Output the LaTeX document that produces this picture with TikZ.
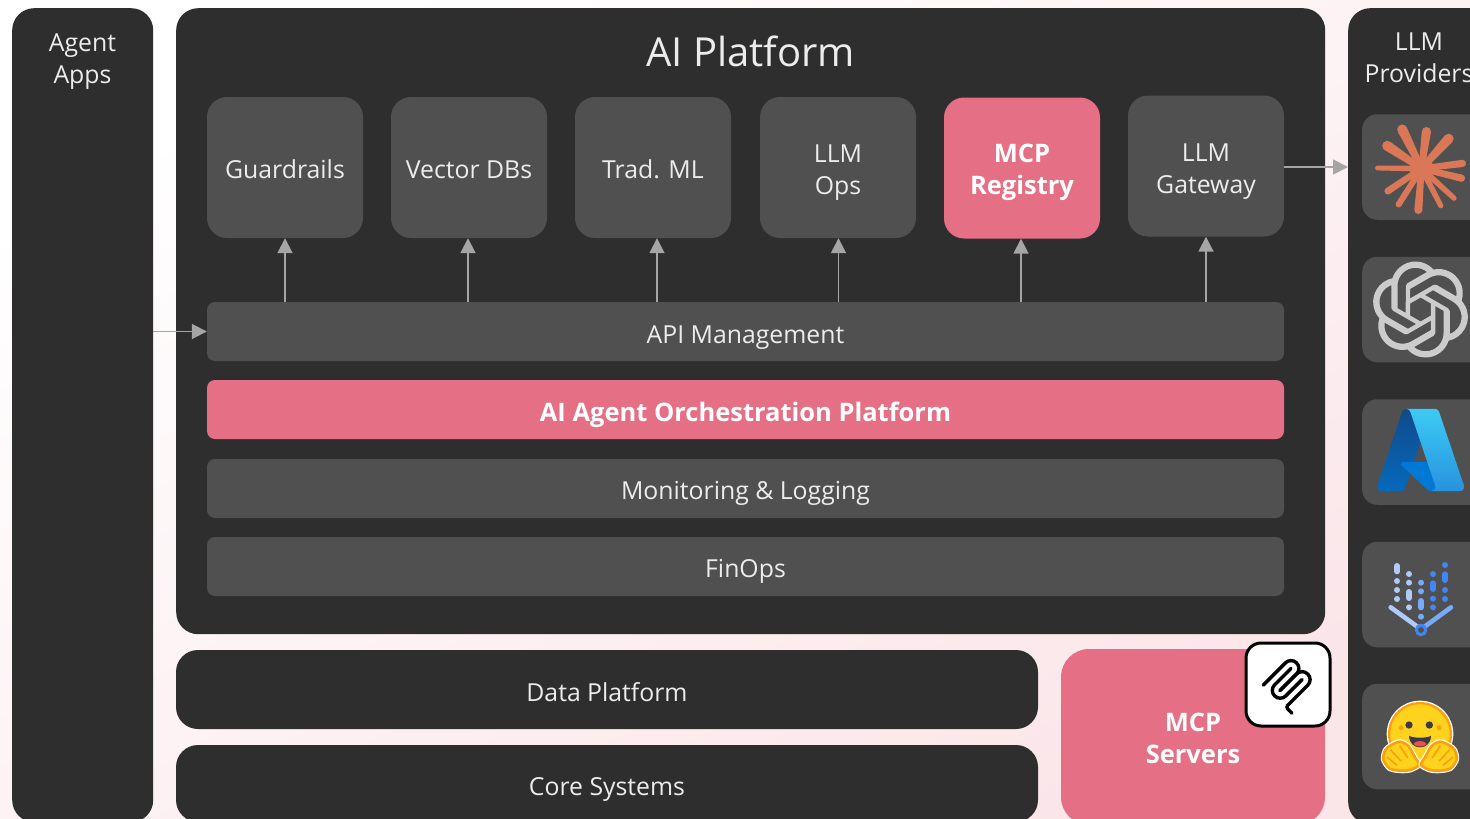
\documentclass[tikz,border=0pt]{standalone}
\usepackage{fontspec}
\usepackage{tikz}
\usetikzlibrary{arrows.meta}
\usetikzlibrary{calc}
\usetikzlibrary{svg.path}
\setmainfont{Open Sans}
\newcommand{\tallline}{\rule{0pt}{28pt}}
\definecolor{panel}{RGB}{46,46,46}
\definecolor{tile}{RGB}{80,80,80}
\definecolor{accent}{RGB}{229,111,132}
\definecolor{arrowgray}{RGB}{165,165,165}
\definecolor{textgray}{RGB}{236,236,236}
\definecolor{claude}{RGB}{217,119,87}
\definecolor{vlight}{RGB}{174,203,250}
\definecolor{vmid}{RGB}{120,170,247}
\definecolor{vblue}{RGB}{66,133,244}
\definecolor{hfyellow}{RGB}{255,210,30}
\definecolor{hforange}{RGB}{255,157,11}
\definecolor{hfdark}{RGB}{58,59,69}
\tikzset{
	plain/.style={font=\fontsize{24.8}{32}\selectfont},
	hot/.style={fill=accent,text=white,font=\fontsize{25.5}{32}\selectfont\bfseries},
	panelbox/.style={fill=panel,rounded corners=22pt,text=textgray,plain},
	tilebox/.style={fill=tile,rounded corners=20pt,minimum width=156pt,minimum height=141pt,text=textgray,plain},
	onetile/.style={text height=27pt,text depth=6pt},
	twotile/.style={align=center},
	barbox/.style={fill=tile,rounded corners=8pt,minimum width=1077pt,minimum height=59pt,text=textgray,plain,text height=29pt,text depth=6pt},
	iconbox/.style={fill=tile,rounded corners=15pt,minimum width=130pt,minimum height=105.5pt,anchor=west},
	feed/.style={draw=arrowgray,line width=1.8pt,-{Triangle[length=15pt,width=15pt]}},
	labeltext/.style={text=textgray,plain,align=center}
}
\begin{document}
\begin{tikzpicture}[x=1pt,y=-1pt]
	\useasboundingbox (0,0) rectangle (1470,819);
	\clip (0,0) rectangle (1470,819);
	\shade[top color=white,bottom color=accent!18,shading angle=30] (0,0) rectangle (1470,819);

	% outer panels
	\node[panelbox,minimum width=141pt,minimum height=814pt,anchor=north west] (agent) at (12,8) {};
	\node[labeltext] (agenttext) at (82.5,62) {Agent\\Apps};
	\node[panelbox,minimum width=1149pt,minimum height=626pt,anchor=north west] (platform) at (176,8) {};
	\node[text=textgray,font=\fontsize{40}{48}\selectfont] (platformtext) at (750.5,51) {AI Platform};
	\node[panelbox,minimum width=200pt,minimum height=816pt,anchor=north west] (providers) at (1348,8) {};
	\node[labeltext] (providerstext) at (1419,58) {LLM\\Providers};

	% tiles
	\node[tilebox,onetile] (guardrails) at (285,167.5) {Guardrails};
	\node[tilebox,onetile] (vector) at (469,167.5) {Vector DBs};
	\node[tilebox,onetile] (trad) at (653,167.5) {Trad. ML};
	\node[tilebox,twotile] (ops) at (838,167.5) {\tallline LLM\\Ops};
	\node[tilebox,hot,twotile] (registry) at (1022,168) {\tallline MCP\\Registry};
	\node[tilebox,twotile] (gateway) at (1206,166) {\tallline LLM\\Gateway};

	% bars
	\node[barbox] (api) at (745.5,331.5) {API Management};
	\node[barbox,hot] (orch) at (745.5,409.5) {AI Agent Orchestration Platform};
	\node[barbox,text height=27pt] (monitoring) at (745.5,488.5) {Monitoring \& Logging};
	\node[barbox,text height=27pt] (finops) at (745.5,566.5) {FinOps};

	% lower panels
	\node[panelbox,minimum width=862pt,minimum height=79pt,text height=29pt,text depth=6pt] (data) at (607,689.5) {Data Platform};
	\node[panelbox,minimum width=862pt,minimum height=77pt,text height=29pt,text depth=6pt] (core) at (607,783.5) {Core Systems};
	\node[panelbox,hot,rounded corners=28pt,minimum width=264pt,minimum height=176pt,align=center] (servers) at (1193,737) {\rule{0pt}{21pt}MCP\\Servers};
	\node[draw=black,line width=3pt,fill=white,rounded corners=15pt,minimum width=84pt,minimum height=83pt] (mcptile) at (1288,684.5) {};

	% arrows
	\foreach \tilename in {guardrails,gateway}
		\draw[feed] (api.north -| \tilename) -- (\tilename.south);
	\draw[feed] ([xshift=-1pt]api.north -| vector) -- ([xshift=-1pt]vector.south);
	\draw[feed] ([xshift=4pt]api.north -| trad) -- ([xshift=4pt]trad.south);
	\draw[feed] ([xshift=.5pt]api.north -| ops) -- ([xshift=.5pt]ops.south);
	\draw[feed] ([xshift=-1pt]api.north -| registry) -- ([xshift=-1pt]registry.south);
	\draw[feed] (agent.east |- api) -- (api.west);
	\draw[feed] ([yshift=-1pt]gateway.east) -- ([yshift=-1pt]providers.west |- gateway);

	% provider tiles
	\node[iconbox] (claudetile) at (1362,167) {};
	\node[iconbox] (openai) at (1362,309.5) {};
	\node[iconbox] (azure) at (1362,452) {};
	\node[iconbox] (vertex) at (1362,594.5) {};
	\node[iconbox] (hugging) at (1362,736.5) {};

	% mcp
	\begin{scope}[shift={(1257.4,657.3)},scale=.327,yscale=-1]
		\draw[black,line width=3.4pt,line cap=round] svg {M18 84.8528L85.8822 16.9706C95.2548 7.59798 110.451 7.59798 119.823 16.9706C129.196 26.3431 129.196 41.5391 119.823 50.9117L68.5581 102.177};
		\draw[black,line width=3.4pt,line cap=round] svg {M69.2652 101.47L119.823 50.9117C129.196 41.5391 144.392 41.5391 153.765 50.9117L154.118 51.2652C163.491 60.6378 163.491 75.8338 154.118 85.2063L92.7248 146.6C89.6006 149.724 89.6006 154.789 92.7248 157.913L105.331 170.52};
		\draw[black,line width=3.4pt,line cap=round] svg {M102.853 33.9411L52.6482 84.1457C43.2756 93.5183 43.2756 108.714 52.6482 118.087C62.0208 127.459 77.2167 127.459 86.5893 118.087L136.794 67.8822};
	\end{scope}

	% claude
	\coordinate (burst) at (1421.5,168.5);
	\fill[claude] (burst) circle[radius=12pt];
	\foreach \tipx/\tipy/\wid in {60/35/5,87/37/4.6,112/45/5,126/73/3.6,125/89/3.6,116/110/2.6,102/118/2.6,78/124/4,57/117/3,45/103/3.4,35/78/2.4,43/53/5}{
		\coordinate (raw) at (1340+\tipx,90+\tipy);
		\coordinate (tip) at ($(raw)!\wid pt!(burst)$);
		\fill[claude] (tip) circle[radius=\wid pt];
		\fill[claude] ($(tip)!\wid pt!90:(burst)$) -- ($(tip)!\wid pt!-90:(burst)$) -- ($(burst)!3pt!90:(tip)$) -- ($(burst)!3pt!-90:(tip)$) -- cycle;
	}

	% openai
	\begin{scope}[shift={(1372.5,261.5)},scale=4,yscale=-1]
		\fill[color=white!80!black,even odd rule] svg {M22.2819 9.8211a5.9847 5.9847 0 0 0-.5157-4.9108 6.0462 6.0462 0 0 0-6.5098-2.9A6.0651 6.0651 0 0 0 4.9807 4.1818a5.9847 5.9847 0 0 0-3.9977 2.9 6.0462 6.0462 0 0 0 .7427 7.0966 5.98 5.98 0 0 0 .511 4.9107 6.051 6.051 0 0 0 6.5146 2.9001A5.9847 5.9847 0 0 0 13.2599 24a6.0557 6.0557 0 0 0 5.7718-4.2058 5.9894 5.9894 0 0 0 3.9977-2.9001 6.0557 6.0557 0 0 0-.7475-7.0729zm-9.022 12.6081a4.4755 4.4755 0 0 1-2.8764-1.0408l.1419-.0804 4.7783-2.7582a.7948 .7948 0 0 0 .3927-.6813v-6.7369l2.02 1.1686a.071 .071 0 0 1 .038 .052v5.5826a4.504 4.504 0 0 1-4.4945 4.4944zm-9.6607-4.1254a4.4708 4.4708 0 0 1-.5346-3.0137l.142 .0852 4.783 2.7582a.7712 .7712 0 0 0 .7806 0l5.8428-3.3685v2.3324a.0804 .0804 0 0 1-.0332 .0615L9.74 19.9502a4.4992 4.4992 0 0 1-6.1408-1.6464zM2.3408 7.8956a4.485 4.485 0 0 1 2.3655-1.9728V11.6a.7664 .7664 0 0 0 .3879 .6765l5.8144 3.3543-2.0201 1.1685a.0757 .0757 0 0 1-.071 0l-4.8303-2.7865A4.504 4.504 0 0 1 2.3408 7.872zm16.5963 3.8558L13.1038 8.364 15.1192 7.2a.0757 .0757 0 0 1 .071 0l4.8303 2.7913a4.4944 4.4944 0 0 1-.6765 8.1042v-5.6772a.79 .79 0 0 0-.407-.667zm2.0107-3.0231l-.142-.0852-4.7735-2.7818a.7759 .7759 0 0 0-.7854 0L9.409 9.2297V6.8974a.0662 .0662 0 0 1 .0284-.0615l4.8303-2.7866a4.4992 4.4992 0 0 1 6.6802 4.66zM8.3065 12.863l-2.02-1.1638a.0804 .0804 0 0 1-.038-.0567V6.0742a4.4992 4.4992 0 0 1 7.3757-3.4537l-.142 .0805L8.704 5.459a.7948 .7948 0 0 0-.3927 .6813l-.0048 6.7227zM9.4041 10.4976l2.602-1.4998 2.6069 1.4998v2.9994l-2.5974 1.4997-2.6067-1.4997Z};
	\end{scope}

	% azure
	\begin{scope}[shift={(1373.1,402.5)},scale=.99,yscale=-1]
		\shade[top color={rgb,255:red,17;green,74;blue,139},bottom color={rgb,255:red,6;green,105;blue,188}] svg {M33.34 6.54h26.04l-27.03 80.1a4.15 4.15 0 0 1-3.94 2.81H8.15a4.14 4.14 0 0 1-3.93-5.47L29.4 9.38a4.15 4.15 0 0 1 3.94-2.84z};
		\fill[color={rgb,255:red,0;green,120;blue,212}] svg {M71.17 60.26H29.88a1.91 1.91 0 0 0-1.3 3.31l26.53 24.76a4.17 4.17 0 0 0 2.85 1.13h23.38z};
		\shade[top color={rgb,255:red,60;green,203;blue,244},bottom color={rgb,255:red,40;green,146;blue,223}] svg {M66.6 9.36a4.14 4.14 0 0 0-3.93-2.82H33.65a4.15 4.15 0 0 1 3.93 2.82l25.18 74.62a4.15 4.15 0 0 1-3.93 5.48h29.02a4.15 4.15 0 0 0 3.93-5.48z};
	\end{scope}

	% vertex
	\begin{scope}[shift={(1340,390)},scale=1/3]
		\foreach \pillx/\pilla/\pillb/\pillcol in {171/528/544/vlight,207/606/624/vlight,243/633/652/vmid,279/580/597/vblue,315/553/570/vblue}
			\draw[\pillcol,line width=6pt,line cap=round] (\pillx,\pilla) -- (\pillx,\pillb);
		\foreach \dotx/\doty/\dotcol in {171/573/vlight,171/600/vlight,171/627/vlight,207/552/vlight,207/578/vlight,207/652/vlight,243/578/vmid,243/604/vmid,243/680/vmid,279/552/vblue,279/626/vblue,279/652/vblue,315/525/vblue,315/600/vblue,315/627/vblue}
			\fill[\dotcol] (\dotx,\doty) circle[radius=9];
		\draw[vlight,line width=4.6pt,line cap=round] (152,652) -- (243,718);
		\draw[vmid,line width=4.6pt,line cap=round] (243,718) -- (333,652);
		\draw[vblue,line width=3pt,fill=tile] (243,720) circle[radius=14];
	\end{scope}

	% hugging
	\begin{scope}[shift={(1340,670)},scale=1/3]
		\fill[white] (240,192) circle[radius=100];
		\fill[hforange] (240,192) circle[radius=96];
		\fill[hfyellow] (240,192) circle[radius=89];
		\fill[hforange] (183,173) circle[radius=7];
		\fill[hforange] (297,173) circle[radius=7];
		\fill[hfdark] (207,165) circle[radius=11];
		\fill[hfdark] (268,165) circle[radius=11];
		\fill[hfdark] (207,197) .. controls (215,205) and (265,205) .. (273,197) .. controls (272,220) and (258,232) .. (240,232) .. controls (222,232) and (208,220) .. (207,197) -- cycle;
		\fill[color={rgb,255:red,239;green,78;blue,78}] (220,222) .. controls (225,210) and (255,210) .. (260,222) .. controls (253,232) and (227,232) .. (220,222) -- cycle;
	\end{scope}
	\foreach \flip in {1,-1}{
		\begin{scope}[shift={(1420,670)},xscale=\flip/3,yscale=1/3]
			\draw[white,line width=5pt,line join=round] plot[smooth cycle] coordinates {(-110,268) (-104,240) (-88,226) (-60,215) (-35,228) (-15,262) (-3,285) (-30,300) (-60,302) (-92,295)};
			\draw[hforange,line width=2.6pt,fill=hfyellow] plot[smooth cycle] coordinates {(-110,268) (-104,240) (-88,226) (-60,215) (-35,228) (-15,262) (-3,285) (-30,300) (-60,302) (-92,295)};
			\draw[hforange,line width=1.6pt,line cap=round] (-88,240) -- (-58,272);
			\draw[hforange,line width=1.6pt,line cap=round] (-60,228) -- (-38,262);
			\draw[hforange,line width=1.6pt,line cap=round] (-98,262) -- (-70,285);
		\end{scope}
	}
\end{tikzpicture}
\end{document}
